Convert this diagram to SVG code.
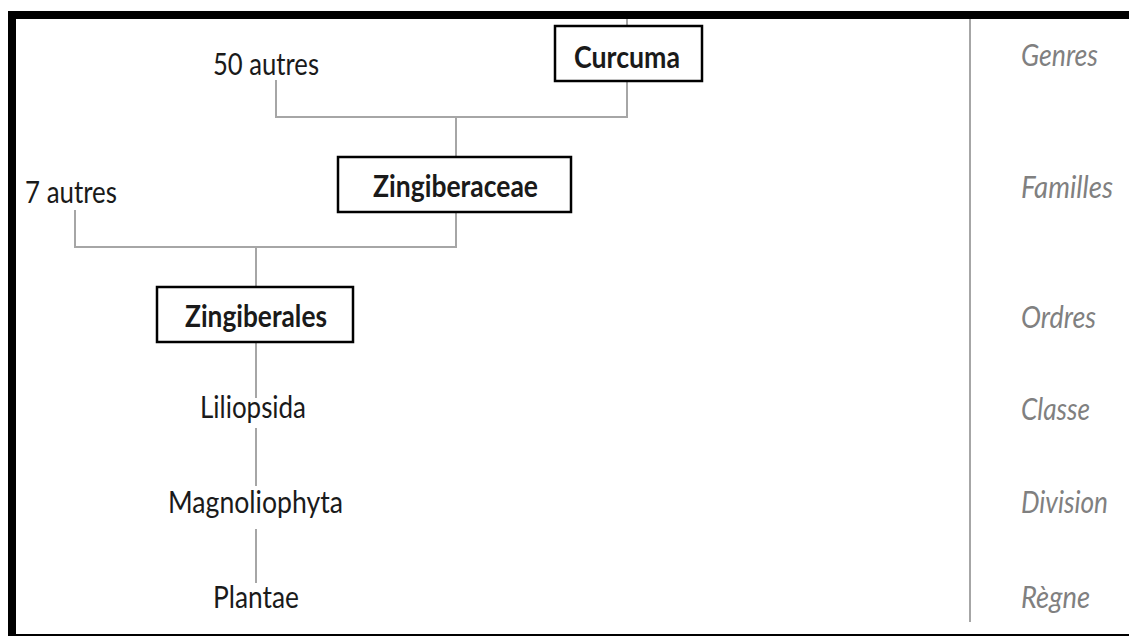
<svg xmlns="http://www.w3.org/2000/svg" width="1129" height="639" viewBox="0 0 1129 639">
<style>
  .t { font-family: Lato, "Open Sans", "Liberation Sans", sans-serif; font-size: 31px; fill: #1a1a1a; }
  .b { font-weight: 700; }
  .lbl { font-family: Lato, "Open Sans", "Liberation Sans", sans-serif; font-size: 30px; font-style: italic; fill: #808080; }
  .box { fill: #ffffff; stroke: #000000; stroke-width: 2.5; }
  .conn { fill: none; stroke: #a6a6a6; stroke-width: 2; }
</style>
<rect x="0" y="0" width="1129" height="639" fill="#ffffff"/>
<g id="frame">
  <rect x="8" y="11" width="1121" height="8" fill="#000000"/>
  <rect x="8" y="11" width="8" height="625" fill="#000000"/>
  <rect x="8" y="634" width="1121" height="2" fill="#000000"/>
</g>
<g id="connectors">
  <line class="conn" x1="627" y1="19" x2="627" y2="26"/>
  <polyline class="conn" points="276,80 276,117 627,117 627,81"/>
  <line class="conn" x1="456" y1="117" x2="456" y2="156"/>
  <polyline class="conn" points="75,210 75,247 456,247 456,212"/>
  <line class="conn" x1="256" y1="247" x2="256" y2="286"/>
  <line class="conn" x1="256" y1="342" x2="256" y2="398"/>
  <line class="conn" x1="256" y1="428" x2="256" y2="486"/>
  <line class="conn" x1="256" y1="529" x2="256" y2="583"/>
  <line class="conn" x1="970" y1="19" x2="970" y2="622" stroke-width="2.5"/>
</g>
<g id="node-curcuma">
  <rect class="box" x="555" y="26" width="147" height="55"/>
  <text class="t b" x="574" y="68" textLength="106" lengthAdjust="spacingAndGlyphs">Curcuma</text>
</g>
<g id="node-50autres">
  <text class="t" x="213" y="75" textLength="106" lengthAdjust="spacingAndGlyphs">50 autres</text>
</g>
<g id="node-zingiberaceae">
  <rect class="box" x="338" y="157" width="233" height="55"/>
  <text class="t b" x="373" y="197" textLength="165" lengthAdjust="spacingAndGlyphs">Zingiberaceae</text>
</g>
<g id="node-7autres">
  <text class="t" x="25" y="203" textLength="92" lengthAdjust="spacingAndGlyphs">7 autres</text>
</g>
<g id="node-zingiberales">
  <rect class="box" x="157" y="287" width="196" height="55"/>
  <text class="t b" x="185" y="327" textLength="142" lengthAdjust="spacingAndGlyphs">Zingiberales</text>
</g>
<g id="node-liliopsida">
  <text class="t" x="200" y="418" textLength="106" lengthAdjust="spacingAndGlyphs">Liliopsida</text>
</g>
<g id="node-magnoliophyta">
  <text class="t" x="168" y="513" textLength="175" lengthAdjust="spacingAndGlyphs">Magnoliophyta</text>
</g>
<g id="node-plantae">
  <text class="t" x="213" y="608" textLength="86" lengthAdjust="spacingAndGlyphs">Plantae</text>
</g>
<g id="ranks">
  <text class="lbl" x="1021" y="66" textLength="77" lengthAdjust="spacingAndGlyphs">Genres</text>
  <text class="lbl" x="1021" y="198" textLength="92" lengthAdjust="spacingAndGlyphs">Familles</text>
  <text class="lbl" x="1021" y="328" textLength="75" lengthAdjust="spacingAndGlyphs">Ordres</text>
  <text class="lbl" x="1021" y="420" textLength="69" lengthAdjust="spacingAndGlyphs">Classe</text>
  <text class="lbl" x="1021" y="513" textLength="87" lengthAdjust="spacingAndGlyphs">Division</text>
  <text class="lbl" x="1021" y="608" textLength="69" lengthAdjust="spacingAndGlyphs">Règne</text>
</g>
</svg>
